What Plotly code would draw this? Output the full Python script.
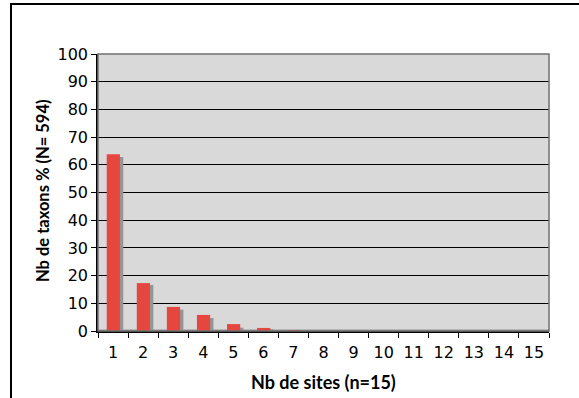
import plotly.graph_objects as go

# Number of sites (1..15) and percentage of taxa per class
sites = [str(i) for i in range(1, 16)]
taxa_pct = [63.8, 17.3, 8.7, 5.8, 2.5, 1.1, 0.35, 0, 0, 0, 0, 0, 0, 0, 0]
taxa_pct_shadow = [62.8, 16.6, 7.7, 4.7, 1.2, 0.4, 0.15, 0, 0, 0, 0, 0, 0, 0, 0]
y_ticks = list(range(0, 101, 10))

RED = "#E5473F"
GREY = "#959595"
BG = "#D9D9D9"

fig = go.Figure()
fig.add_trace(go.Bar(x=sites, y=taxa_pct_shadow, marker=dict(color=GREY, line=dict(width=0)),
                     width=0.44, offset=-0.1, showlegend=False))
fig.add_trace(go.Bar(x=sites, y=taxa_pct, marker=dict(color=RED, line=dict(width=0)),
                     width=0.44, offset=-0.21, showlegend=False))

L, R, T, B = 98, 30, 54, 67
W, H = 579, 398
pw, ph = W - L - R, H - T - B

fig.update_layout(
    width=W, height=H, barmode="overlay",
    margin=dict(l=L, r=R, t=T, b=B),
    paper_bgcolor="white", plot_bgcolor=BG,
    font=dict(family="DejaVu Sans", size=16, color="black"),
    xaxis=dict(type="category", tickson="boundaries", ticks="outside", ticklen=5,
               tickcolor="black", showline=True, linecolor="black", linewidth=1.5,
               showgrid=False, tickfont=dict(size=16), range=[-0.5, 14.5],
               ticklabelstandoff=6),
    yaxis=dict(range=[0, 100], tickvals=y_ticks, ticks="outside", ticklen=5,
               tickcolor="black", showline=True, linecolor="black", linewidth=1.5,
               showgrid=True, gridcolor="black", gridwidth=1, tickfont=dict(size=16),
               zeroline=False),
    shapes=[
        # plot area frame
        dict(type="rect", xref="paper", yref="paper", x0=0, x1=1, y0=0, y1=1,
             line=dict(color="#707070", width=1.5), layer="above"),
        # floor strip
        dict(type="rect", xref="x", yref="y", x0=-0.5, x1=14.5, y0=0, y1=0.5,
             fillcolor=GREY, line=dict(width=0), layer="below"),
        # outer chart border
        dict(type="rect", xref="paper", yref="paper",
             x0=(11 - L) / pw, x1=1.2, y0=-0.5, y1=1 + (T - 4) / ph,
             line=dict(color="black", width=2)),
    ],
    annotations=[
        dict(text="<b>Nb de sites (n=15)</b>", xref="paper", yref="paper",
             x=0.5, y=-(382 - T - ph) / ph, showarrow=False, yanchor="middle",
             font=dict(family="Lato", size=18)),
        dict(text="<b>Nb de taxons % (N= 594)</b>", xref="paper", yref="paper",
             x=(43 - L) / pw, y=(ph - (191 - T)) / ph, textangle=-90, showarrow=False,
             xanchor="center", yanchor="middle", font=dict(family="Lato", size=16.5)),
    ],
)

fig.write_html("out.html")
